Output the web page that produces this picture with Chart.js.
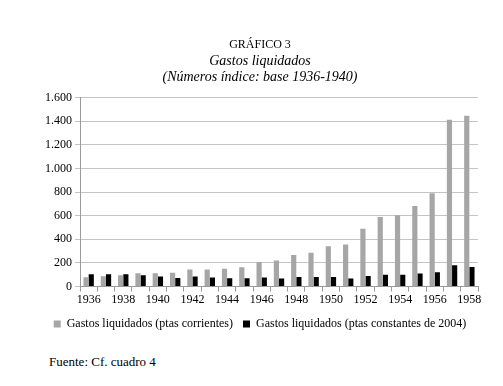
<!DOCTYPE html>
<html>
<head>
<meta charset="utf-8">
<script src="https://cdn.jsdelivr.net/npm/chart.js@4.4.1/dist/chart.umd.min.js"></script>
<style>
  body { margin: 0; background: #fff; }
  #wrap { position: relative; width: 503px; height: 386px; }
  #box { position: absolute; left: 0; top: 0; width: 503px; height: 340px; }
  #fuente { position: absolute; left: 49px; top: 354px; font: 13px "Liberation Serif", serif; color: #000; }
</style>
</head>
<body>
<div id="wrap">
  <div id="box"><canvas id="chart_gastos"></canvas></div>
  <div id="fuente">Fuente: Cf. cuadro 4</div>
</div>
<script>
var years = ['1936', '1937', '1938', '1939', '1940', '1941', '1942', '1943', '1944', '1945', '1946', '1947',
             '1948', '1949', '1950', '1951', '1952', '1953', '1954', '1955', '1956', '1957', '1958'];
// indices
var corrientes = [79, 87, 96, 113, 113, 118, 144, 144, 152, 163, 208, 220, 268, 287, 341, 355, 490, 589, 603, 682, 789, 1411, 1445];
var constantes = [104, 104, 104, 96, 85, 73, 85, 76, 70, 70, 76, 68, 82, 82, 82, 68, 90, 101, 101, 110, 121, 180, 166];
var yTicks = [0, 200, 400, 600, 800, 1000, 1200, 1400, 1600];

var serif = '"Liberation Serif", "Times New Roman", serif';

var chart_gastos = new Chart(document.getElementById('chart_gastos'), {
    type: 'bar',
    data: {
        labels: years,
        datasets: [
            {
                label: 'Gastos liquidados (ptas corrientes)',
                data: corrientes,
                backgroundColor: '#a6a6a6',
                barPercentage: 1,
                categoryPercentage: 0.6
            },
            {
                label: 'Gastos liquidados (ptas constantes de 2004)',
                data: constantes,
                backgroundColor: '#000000',
                barPercentage: 1,
                categoryPercentage: 0.6
            }
        ]
    },
    options: {
        animation: false,
        responsive: true,
        maintainAspectRatio: false,
        layout: {
            padding: { top: 38, left: 42, right: 25, bottom: 0 }
        },
        plugins: {
            title: {
                display: true,
                text: 'GRÁFICO 3',
                color: '#000',
                font: { family: serif, size: 12, weight: 'normal', lineHeight: 1.1 },
                padding: { top: 0, bottom: 2 }
            },
            subtitle: {
                display: true,
                text: ['Gastos liquidados', '(Números índice: base 1936-1940)'],
                color: '#000',
                font: { family: serif, size: 14, style: 'italic', lineHeight: 1.15 },
                padding: { top: 0, bottom: 12 }
            },
            legend: {
                position: 'bottom',
                labels: {
                    color: '#000',
                    font: { family: serif, size: 12 },
                    boxWidth: 7,
                    boxHeight: 7,
                    padding: 10
                }
            },
            tooltip: { enabled: false }
        },
        scales: {
            x: {
                grid: {
                    drawOnChartArea: false,
                    drawTicks: true,
                    tickLength: 5,
                    color: '#9a9a9a'
                },
                border: { color: '#9a9a9a' },
                ticks: {
                    autoSkip: false,
                    maxRotation: 0,
                    color: '#000',
                    font: { family: serif, size: 12 },
                    padding: 1,
                    callback: function(value, index) {
                        return index % 2 === 0 ? years[index] : '';
                    }
                }
            },
            y: {
                min: 0,
                max: 1600,
                afterBuildTicks: function(axis) {
                    axis.ticks = yTicks.map(function(v) { return { value: v }; });
                },
                grid: {
                    color: '#c4c4c4',
                    tickLength: 5
                },
                border: { color: '#9a9a9a' },
                ticks: {
                    color: '#000',
                    font: { family: serif, size: 12 },
                    padding: 3,
                    callback: function(value) {
                        return value.toString().replace(/\B(?=(\d{3})+(?!\d))/g, '.');
                    }
                }
            }
        }
    }
});
</script>
</body>
</html>
